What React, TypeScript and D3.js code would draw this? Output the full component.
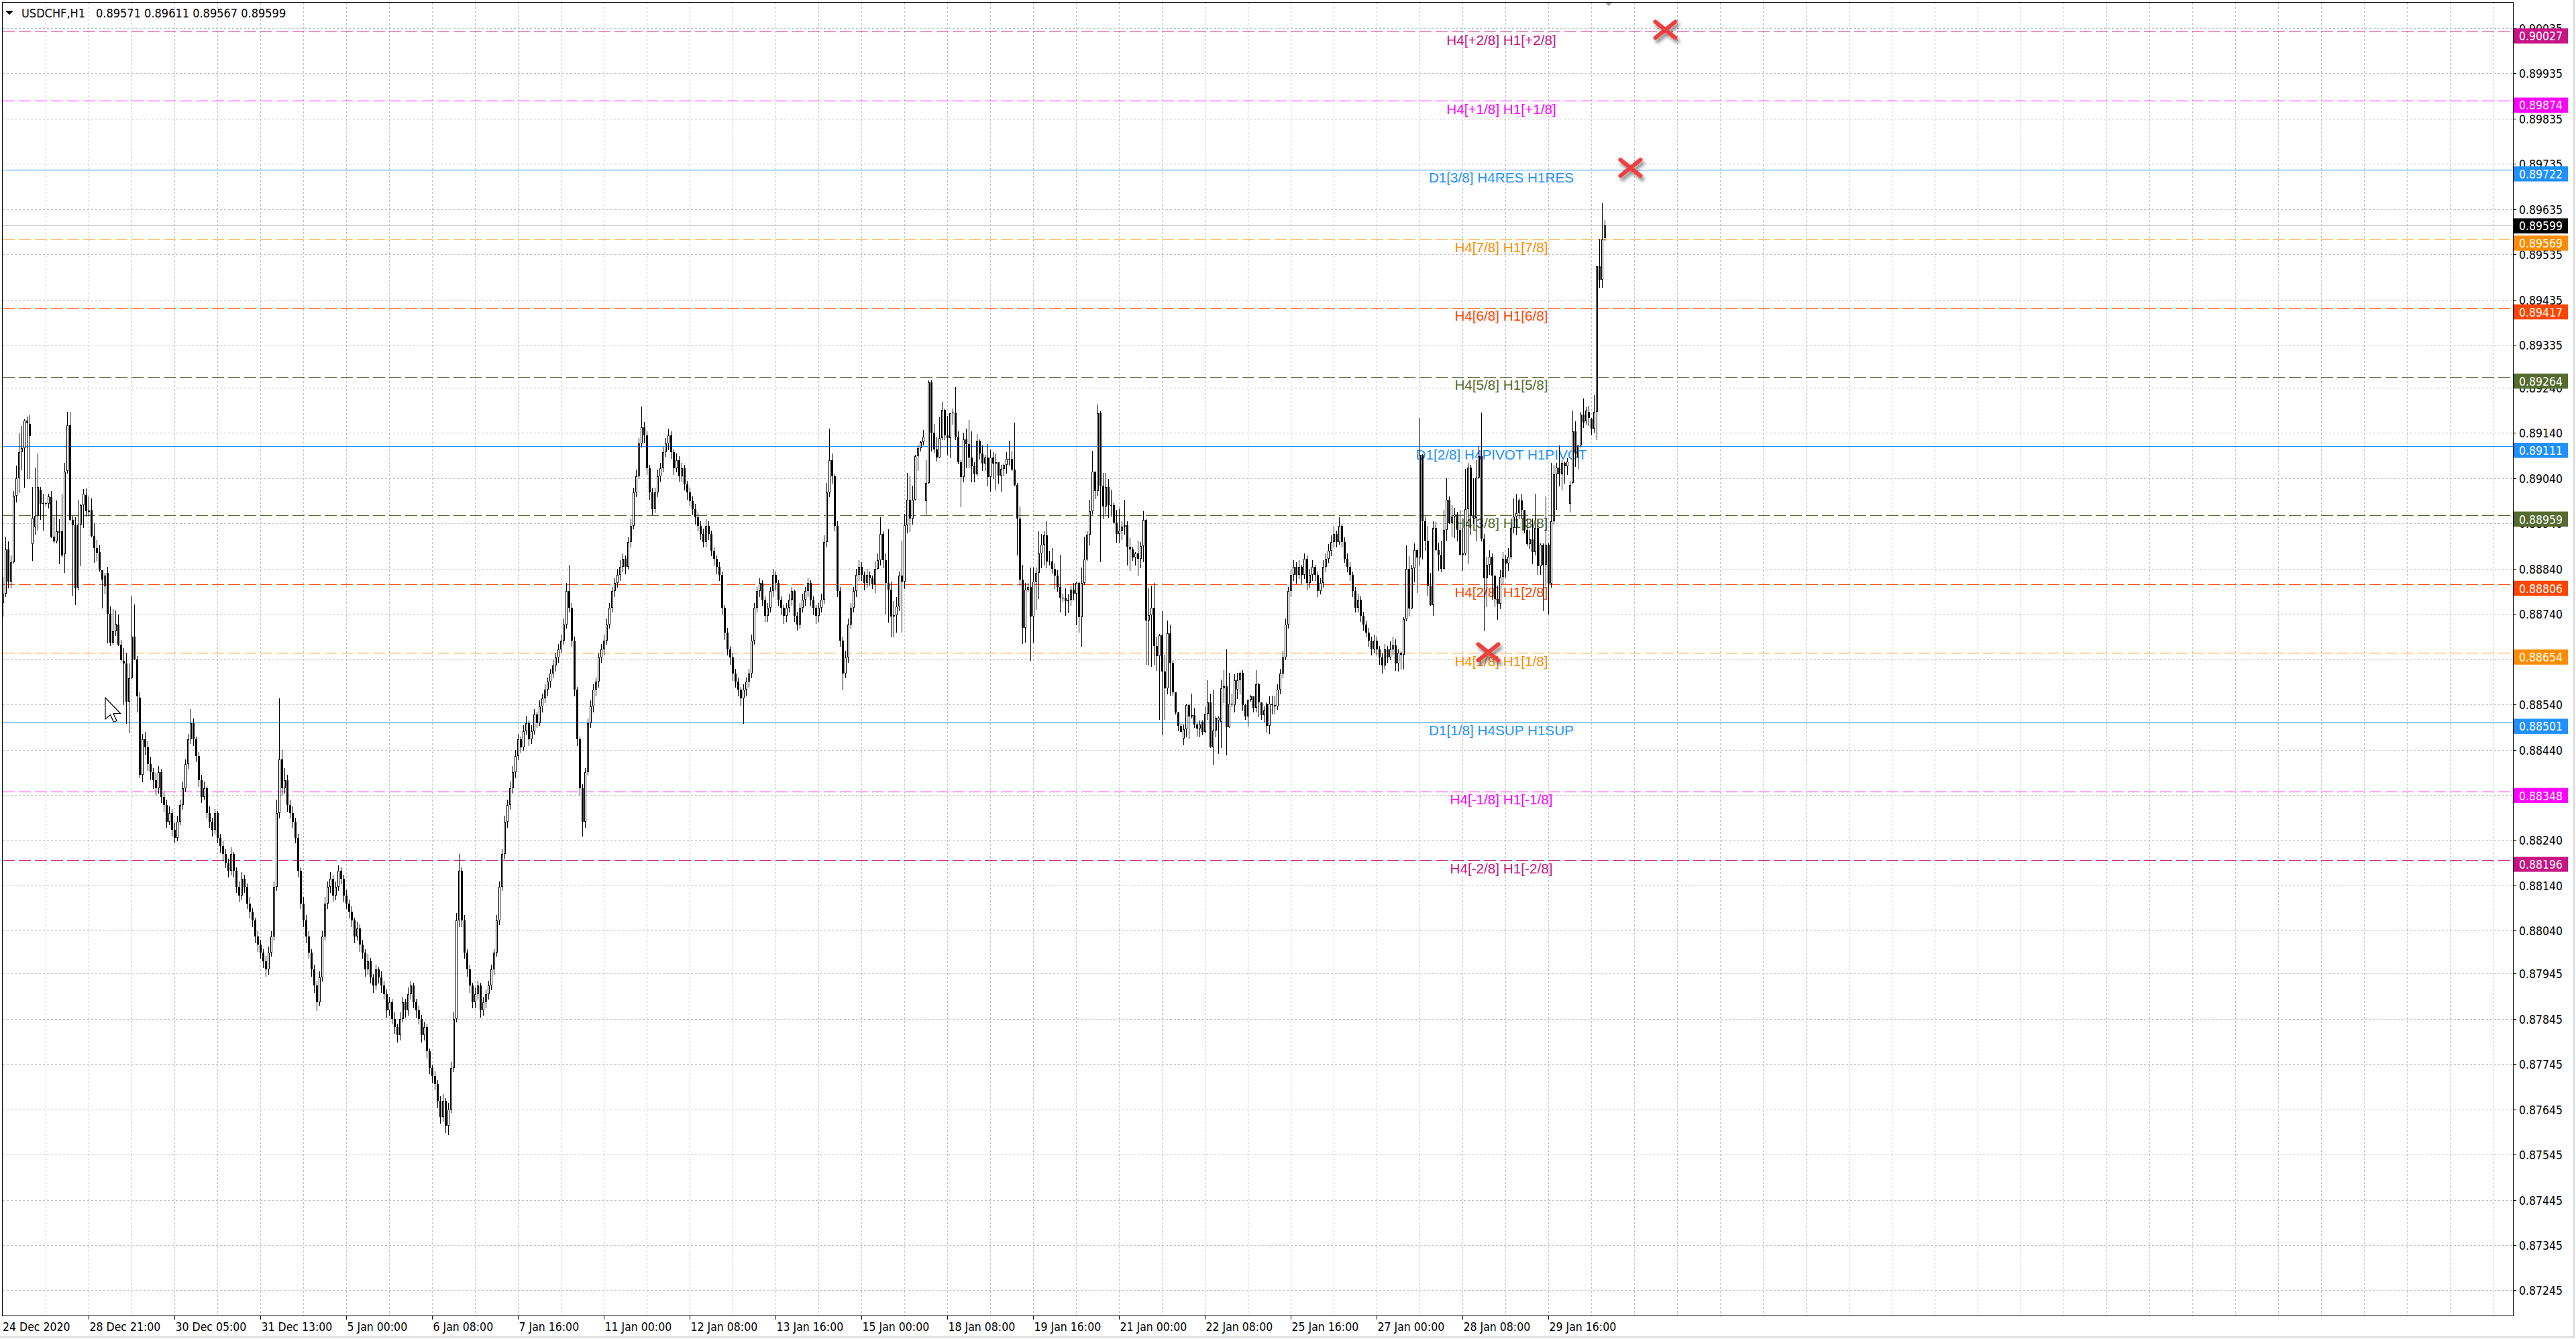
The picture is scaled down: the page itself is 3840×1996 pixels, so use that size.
import React from 'react';
import * as d3 from 'd3';

// ---------- DATA: USDCHF H1 bars, one array per trading day, rows [open, high, low, close] ----------
const dec24 = [
[.88765,.88822,.88737,.88785],[.88785,.88911,.88779,.88883],[.88883,.88901,.88799,.88813],[.88813,.88870,.88799,.88856],
[.88856,.89012,.88854,.89002],[.89002,.89069,.88989,.89040],[.89040,.89140,.89009,.89098],[.89098,.89157,.89060,.89107],
[.89107,.89171,.89022,.89168],[.89168,.89177,.89040,.89163],[.89161,.89180,.89040,.89134]];
const dec28 = [
[.88896,.89022,.88859,.88953],[.88933,.89064,.88918,.88957],[.88957,.89095,.88927,.89021],[.89016,.89022,.88950,.88985],
[.88985,.89006,.88927,.88986],[.88986,.88989,.88982,.88985],[.88985,.89007,.88975,.89001],[.88999,.89012,.88910,.88910],
[.88911,.88955,.88899,.88901],[.88901,.88991,.88899,.88923],[.88920,.88950,.88853,.88923],[.88923,.89005,.88867,.88870],
[.88873,.89075,.88833,.89055],[.89057,.89187,.89052,.89158],[.89158,.89187,.88947,.88948],[.88948,.88958,.88782,.88937],
[.88937,.88955,.88762,.88798],[.88799,.88993,.88794,.88939],[.88939,.88984,.88848,.88982],[.88982,.89017,.88933,.89006],
[.89004,.89019,.88958,.88968],[.88970,.89001,.88958,.88967],[.88971,.88996,.88911,.88913],[.88913,.88942,.88856,.88887]];
const dec29 = [
[.88886,.88904,.88859,.88876],[.88877,.88894,.88836,.88837],[.88837,.88837,.88754,.88816],[.88802,.88831,.88785,.88825],
[.88831,.88845,.88677,.88741],[.88741,.88757,.88672,.88678],[.88677,.88751,.88674,.88703],[.88703,.88748,.88694,.88719],
[.88717,.88740,.88672,.88673],[.88673,.88683,.88638,.88639],[.88638,.88666,.88541,.88632],[.88632,.88655,.88499,.88547],
[.88547,.88632,.88479,.88598],[.88598,.88779,.88598,.88690],[.88691,.88762,.88640,.88640],[.88640,.88647,.88524,.88558],
[.88555,.88567,.88380,.88385],[.88385,.88475,.88370,.88464],[.88464,.88480,.88430,.88446],[.88446,.88460,.88395,.88409],
[.88409,.88425,.88375,.88391],[.88391,.88400,.88355,.88373],[.88373,.88390,.88340,.88355],[.88355,.88405,.88345,.88391]];
const dec30 = [
[.88391,.88398,.88325,.88337],[.88337,.88350,.88305,.88319],[.88319,.88330,.88270,.88282],[.88282,.88315,.88275,.88300],
[.88300,.88310,.88250,.88264],[.88264,.88280,.88235,.88246],[.88246,.88295,.88240,.88282],[.88282,.88330,.88275,.88319],
[.88319,.88370,.88310,.88355],[.88355,.88420,.88350,.88409],[.88409,.88475,.88400,.88464],[.88464,.88530,.88455,.88500],
[.88500,.88510,.88450,.88464],[.88464,.88470,.88415,.88427],[.88427,.88435,.88360,.88373],[.88373,.88385,.88325,.88337],
[.88337,.88370,.88330,.88355],[.88355,.88360,.88290,.88300],[.88300,.88315,.88270,.88282],[.88282,.88290,.88250,.88264],
[.88264,.88310,.88255,.88300],[.88300,.88305,.88235,.88246],[.88246,.88255,.88215,.88228],[.88228,.88240,.88195,.88210]];
const dec31 = [
[.88210,.88220,.88180,.88191],[.88191,.88200,.88160,.88173],[.88173,.88225,.88165,.88210],[.88210,.88215,.88160,.88173],
[.88173,.88180,.88125,.88137],[.88137,.88150,.88105,.88119],[.88119,.88170,.88110,.88155],[.88155,.88165,.88125,.88137],
[.88137,.88145,.88090,.88101],[.88101,.88115,.88070,.88082],[.88082,.88090,.88050,.88064],[.88064,.88070,.88015,.88028],
[.88028,.88040,.87995,.88010],[.88010,.88020,.87980,.87992],[.87992,.88000,.87960,.87973],[.87973,.87985,.87940,.87955],
[.87955,.88005,.87945,.87992],[.87992,.88040,.87985,.88028],[.88028,.88150,.88020,.88137],[.88137,.88330,.88130,.88300],
[.88300,.88554,.88290,.88420]];
const jan04 = [
[.88420,.88440,.88340,.88355],[.88355,.88400,.88345,.88373],[.88373,.88385,.88305,.88319],[.88319,.88330,.88290,.88300],
[.88300,.88315,.88270,.88282],[.88282,.88290,.88235,.88246],[.88246,.88255,.88160,.88173],[.88173,.88180,.88090,.88101],
[.88101,.88115,.88050,.88064],[.88064,.88075,.88015,.88028],[.88028,.88040,.87980,.87992],[.87992,.88000,.87940,.87955],
[.87955,.87965,.87905,.87919],[.87919,.87930,.87865,.87883],[.87883,.87950,.87875,.87937],[.87937,.88040,.87930,.88028],
[.88028,.88115,.88020,.88101],[.88101,.88150,.88090,.88137],[.88137,.88170,.88125,.88155],[.88155,.88165,.88105,.88119],
[.88119,.88150,.88110,.88137],[.88137,.88185,.88130,.88173],[.88173,.88180,.88145,.88155],[.88155,.88165,.88105,.88119]];
const jan05 = [
[.88119,.88130,.88090,.88101],[.88101,.88110,.88070,.88082],[.88082,.88095,.88050,.88064],[.88064,.88070,.88015,.88028],
[.88028,.88060,.88020,.88046],[.88046,.88055,.87995,.88010],[.88010,.88020,.87980,.87992],[.87992,.88000,.87940,.87955],
[.87955,.87990,.87945,.87973],[.87973,.87980,.87925,.87937],[.87937,.87945,.87905,.87919],[.87919,.87965,.87910,.87955],
[.87955,.87960,.87925,.87937],[.87937,.87950,.87905,.87919],[.87919,.87930,.87890,.87901],[.87901,.87910,.87850,.87864],
[.87864,.87895,.87855,.87883],[.87883,.87890,.87835,.87846],[.87846,.87860,.87815,.87828],[.87828,.87835,.87795,.87810],
[.87810,.87860,.87800,.87846],[.87846,.87895,.87840,.87883],[.87883,.87890,.87850,.87864],[.87864,.87915,.87855,.87901]];
const jan06 = [
[.87901,.87930,.87890,.87919],[.87919,.87925,.87870,.87883],[.87883,.87890,.87850,.87864],[.87864,.87875,.87835,.87846],
[.87846,.87855,.87795,.87810],[.87810,.87840,.87800,.87828],[.87828,.87835,.87760,.87774],[.87774,.87780,.87725,.87737],
[.87737,.87745,.87705,.87719],[.87719,.87730,.87690,.87701],[.87701,.87710,.87650,.87665],[.87665,.87675,.87615,.87629],
[.87629,.87680,.87620,.87665],[.87665,.87670,.87595,.87610],[.87610,.87660,.87590,.87646],[.87646,.87750,.87640,.87737],
[.87737,.87860,.87730,.87846],[.87846,.88080,.87840,.88064],[.88064,.88210,.88050,.88173],[.88173,.88180,.88050,.88064],
[.88064,.88075,.87980,.87992],[.87992,.88000,.87940,.87955],[.87955,.87965,.87905,.87919],[.87919,.87925,.87870,.87883]];
const jan07 = [
[.87883,.87915,.87870,.87901],[.87901,.87930,.87890,.87919],[.87919,.87925,.87850,.87864],[.87864,.87895,.87855,.87883],
[.87883,.87910,.87870,.87901],[.87901,.87930,.87890,.87919],[.87919,.87965,.87910,.87955],[.87955,.88000,.87945,.87992],
[.87992,.88075,.87985,.88064],[.88064,.88150,.88055,.88137],[.88137,.88220,.88130,.88210],[.88210,.88295,.88200,.88282],
[.88282,.88330,.88270,.88319],[.88319,.88370,.88310,.88355],[.88355,.88405,.88345,.88391],[.88391,.88440,.88380,.88427],
[.88427,.88475,.88420,.88464],[.88464,.88470,.88435,.88446],[.88446,.88495,.88440,.88482],[.88482,.88515,.88475,.88500],
[.88500,.88505,.88450,.88464],[.88464,.88495,.88455,.88482],[.88482,.88530,.88475,.88518],[.88518,.88525,.88490,.88500]];
const jan08 = [
[.88500,.88550,.88495,.88536],[.88536,.88565,.88525,.88554],[.88554,.88585,.88545,.88573],[.88573,.88600,.88560,.88591],
[.88591,.88620,.88580,.88609],[.88609,.88640,.88600,.88627],[.88627,.88655,.88615,.88645],[.88645,.88675,.88635,.88663],
[.88663,.88695,.88655,.88682],[.88682,.88730,.88675,.88718],[.88718,.88810,.88710,.88791],[.88791,.88850,.88745,.88754],
[.88754,.88765,.88670,.88682],[.88682,.88690,.88560,.88573],[.88573,.88580,.88450,.88464],[.88464,.88470,.88340,.88355],
[.88355,.88365,.88250,.88282],[.88282,.88400,.88270,.88391],[.88391,.88510,.88385,.88500],[.88500,.88550,.88490,.88536],
[.88536,.88585,.88525,.88573],[.88573,.88600,.88560,.88591],[.88591,.88655,.88580,.88645],[.88645,.88675,.88635,.88663]];
const jan11 = [
[.88663,.88695,.88650,.88682],[.88682,.88730,.88675,.88718],[.88718,.88765,.88710,.88754],[.88754,.88800,.88745,.88791],
[.88791,.88820,.88780,.88809],[.88809,.88840,.88800,.88827],[.88827,.88860,.88815,.88845],[.88845,.88875,.88835,.88863],
[.88863,.88870,.88830,.88845],[.88845,.88910,.88840,.88900],[.88900,.88950,.88890,.88936],[.88936,.89020,.88930,.89009],
[.89009,.89060,.89000,.89045],[.89045,.89130,.89040,.89117],[.89117,.89200,.89110,.89154],[.89154,.89165,.89120,.89136],
[.89136,.89145,.89050,.89063],[.89063,.89070,.88995,.89009],[.89009,.89020,.88960,.88972],[.88972,.89020,.88965,.89009],
[.89009,.89060,.89000,.89045],[.89045,.89075,.89035,.89063],[.89063,.89110,.89055,.89099],[.89099,.89130,.89090,.89117]];
const jan12 = [
[.89117,.89150,.89105,.89136],[.89136,.89145,.89085,.89099],[.89099,.89105,.89050,.89063],[.89063,.89095,.89055,.89081],
[.89081,.89090,.89035,.89045],[.89045,.89075,.89035,.89063],[.89063,.89070,.89015,.89027],[.89027,.89035,.88995,.89009],
[.89009,.89020,.88980,.88990],[.88990,.89000,.88960,.88972],[.88972,.88985,.88940,.88954],[.88954,.88965,.88925,.88936],
[.88936,.88945,.88905,.88918],[.88918,.88930,.88890,.88900],[.88900,.88950,.88890,.88936],[.88936,.88945,.88905,.88918],
[.88918,.88925,.88870,.88881],[.88881,.88890,.88850,.88863],[.88863,.88870,.88830,.88845],[.88845,.88855,.88815,.88827],
[.88827,.88835,.88740,.88754],[.88754,.88760,.88685,.88700],[.88700,.88710,.88650,.88663],[.88663,.88670,.88630,.88645]];
const jan13 = [
[.88645,.88655,.88595,.88609],[.88609,.88620,.88580,.88591],[.88591,.88600,.88560,.88573],[.88573,.88580,.88540,.88554],
[.88554,.88585,.88500,.88573],[.88573,.88600,.88560,.88591],[.88591,.88620,.88580,.88609],[.88609,.88695,.88600,.88682],
[.88682,.88765,.88675,.88754],[.88754,.88800,.88745,.88791],[.88791,.88820,.88780,.88809],[.88809,.88815,.88760,.88772],
[.88772,.88780,.88725,.88736],[.88736,.88765,.88725,.88754],[.88754,.88800,.88745,.88791],[.88791,.88840,.88780,.88827],
[.88827,.88835,.88795,.88809],[.88809,.88815,.88760,.88772],[.88772,.88780,.88740,.88754],[.88754,.88760,.88720,.88736],
[.88736,.88765,.88725,.88754],[.88754,.88785,.88745,.88772],[.88772,.88800,.88760,.88791],[.88791,.88795,.88725,.88736]];
const jan14 = [
[.88736,.88745,.88705,.88718],[.88718,.88765,.88710,.88754],[.88754,.88785,.88745,.88772],[.88772,.88800,.88760,.88791],
[.88791,.88820,.88780,.88809],[.88809,.88815,.88760,.88772],[.88772,.88780,.88740,.88754],[.88754,.88760,.88720,.88736],
[.88736,.88765,.88725,.88754],[.88754,.88785,.88745,.88772],[.88772,.88915,.88765,.88900],[.88900,.89030,.88890,.89009],
[.89009,.89150,.89000,.89081],[.89081,.89095,.89030,.89045],[.89045,.89050,.88925,.88936],[.88936,.88945,.88780,.88791],
[.88791,.88800,.88670,.88682],[.88682,.88690,.88573,.88609],[.88609,.88660,.88600,.88645],[.88645,.88730,.88635,.88718],
[.88718,.88765,.88710,.88754],[.88754,.88800,.88745,.88791],[.88791,.88840,.88780,.88827],[.88827,.88860,.88815,.88845]];
const jan15 = [
[.88845,.88855,.88815,.88827],[.88827,.88835,.88795,.88809],[.88809,.88840,.88800,.88827],[.88827,.88835,.88805,.88820],
[.88820,.88826,.88798,.88806],[.88806,.88857,.88789,.88840],[.88840,.88874,.88840,.88860],[.88860,.88954,.88849,.88917],
[.88917,.88923,.88843,.88860],[.88860,.88874,.88741,.88809],[.88809,.88928,.88724,.88795],[.88795,.88812,.88690,.88735],
[.88735,.88769,.88690,.88738],[.88738,.88778,.88701,.88758],[.88758,.88835,.88749,.88826],[.88826,.88903,.88701,.88812],
[.88812,.88962,.88798,.88937],[.88937,.89053,.88920,.88993],[.88993,.89047,.88923,.88951],[.88951,.89025,.88940,.88993],
[.88993,.89093,.88993,.89090],[.89090,.89115,.89059,.89107],[.89107,.89124,.89101,.89121],[.89121,.89147,.89115,.89133]];
const jan18 = [
[.88990,.89080,.88960,.89030],[.89030,.89257,.89030,.89252],[.89252,.89257,.89101,.89141],[.89141,.89161,.89099,.89104],
[.89104,.89132,.89079,.89087],[.89087,.89175,.89087,.89130],[.89130,.89209,.89127,.89192],[.89192,.89195,.89127,.89135],
[.89135,.89178,.89093,.89130],[.89130,.89184,.89087,.89184],[.89184,.89195,.89161,.89186],[.89186,.89243,.89127,.89133],
[.89133,.89144,.89073,.89076],[.89076,.89081,.88979,.89044],[.89044,.89141,.89033,.89127],[.89127,.89150,.89064,.89116],
[.89116,.89170,.89064,.89087],[.89087,.89144,.89033,.89067],[.89067,.89076,.89033,.89050],[.89050,.89138,.89047,.89124],
[.89124,.89127,.89084,.89096],[.89096,.89113,.89059,.89073],[.89073,.89093,.89059,.89087],[.89087,.89116,.89024,.89044]];
const jan19 = [
[.89044,.89104,.89013,.89087],[.89087,.89099,.89041,.89073],[.89073,.89096,.89016,.89076],[.89076,.89076,.89030,.89047],
[.89047,.89070,.89013,.89062],[.89062,.89073,.89047,.89070],[.89070,.89099,.89053,.89083],[.89083,.89124,.89070,.89083],
[.89083,.89101,.89059,.89060],[.89060,.89164,.89024,.89026],[.89026,.89030,.88872,.88951],[.88951,.88979,.88804,.88816],
[.88816,.88849,.88676,.88710],[.88710,.88809,.88679,.88795],[.88795,.88809,.88792,.88800],[.88800,.88843,.88639,.88735],
[.88735,.88843,.88679,.88812],[.88812,.88843,.88752,.88832],[.88832,.88923,.88775,.88874],[.88874,.88917,.88843,.88894],
[.88894,.88923,.88849,.88914],[.88914,.88945,.88843,.88857],[.88857,.88880,.88849,.88857],[.88857,.88886,.88832,.88840]];
const jan20 = [
[.88840,.88852,.88798,.88825],[.88825,.88838,.88792,.88801],[.88801,.88872,.88746,.88776],[.88776,.88786,.88770,.88776],
[.88776,.88798,.88738,.88769],[.88769,.88784,.88744,.88772],[.88772,.88803,.88761,.88795],[.88795,.88809,.88772,.88786],
[.88786,.88812,.88718,.88810],[.88810,.88812,.88701,.88733],[.88733,.88843,.88670,.88809],[.88809,.88911,.88806,.88861],
[.88861,.88923,.88860,.88916],[.88916,.88993,.88894,.88968],[.88968,.89101,.88962,.89056],[.89056,.89056,.88996,.89013],
[.89013,.89204,.89002,.89185],[.89185,.89189,.88857,.89025],[.89025,.89053,.88951,.88979],[.88979,.89053,.88962,.89022],
[.89022,.89039,.88954,.88982],[.88982,.89016,.88957,.88982],[.88982,.88987,.88942,.88943],[.88943,.88971,.88900,.88917]];
const jan21 = [
[.88917,.88974,.88900,.88925],[.88925,.88945,.88906,.88934],[.88934,.88993,.88917,.88937],[.88937,.88945,.88849,.88889],
[.88889,.88908,.88838,.88883],[.88883,.88889,.88860,.88866],[.88866,.88877,.88849,.88874],[.88874,.88903,.88826,.88863],
[.88863,.88900,.88843,.88891],[.88891,.88968,.88857,.88948],[.88948,.88951,.88630,.88727],[.88727,.88798,.88628,.88738],
[.88738,.88803,.88625,.88755],[.88755,.88809,.88630,.88670],[.88670,.88690,.88616,.88647],[.88647,.88696,.88508,.88693],
[.88693,.88747,.88474,.88613],[.88613,.88650,.88508,.88576],[.88576,.88727,.88565,.88698],[.88698,.88718,.88562,.88633],
[.88633,.88639,.88562,.88568],[.88568,.88568,.88520,.88523],[.88523,.88525,.88483,.88494],[.88494,.88500,.88480,.88480]];
const jan22 = [
[.88465,.88497,.88452,.88486],[.88486,.88542,.88469,.88540],[.88540,.88542,.88466,.88514],[.88514,.88565,.88511,.88517],
[.88517,.88534,.88491,.88497],[.88497,.88500,.88471,.88488],[.88488,.88506,.88469,.88497],[.88503,.88506,.88474,.88480],
[.88480,.88537,.88478,.88520],[.88520,.88594,.88508,.88545],[.88545,.88565,.88446,.88446],[.88446,.88574,.88409,.88483],
[.88483,.88514,.88469,.88511],[.88505,.88514,.88432,.88511],[.88503,.88596,.88446,.88576],[.88576,.88616,.88545,.88581],
[.88581,.88662,.88429,.88491],[.88491,.88611,.88491,.88542],[.88542,.88565,.88537,.88542],[.88540,.88608,.88525,.88594],
[.88574,.88611,.88554,.88594],[.88594,.88613,.88565,.88611],[.88611,.88616,.88528,.88540],[.88540,.88542,.88508,.88514]];
const jan25 = [
[.88514,.88551,.88494,.88551],[.88551,.88562,.88548,.88559],[.88559,.88559,.88525,.88534],[.88534,.88616,.88525,.88585],
[.88585,.88588,.88514,.88545],[.88545,.88545,.88508,.88517],[.88517,.88537,.88503,.88528],[.88542,.88545,.88480,.88494],
[.88494,.88559,.88477,.88542],[.88542,.88560,.88520,.88540],[.88540,.88560,.88520,.88536],[.88536,.88585,.88530,.88573],
[.88573,.88620,.88565,.88609],[.88609,.88660,.88600,.88645],[.88645,.88730,.88640,.88718],[.88718,.88800,.88710,.88791],
[.88791,.88840,.88780,.88827],[.88827,.88860,.88815,.88845],[.88845,.88855,.88810,.88827],[.88827,.88860,.88820,.88845],
[.88845,.88850,.88810,.88827],[.88827,.88875,.88820,.88863],[.88863,.88870,.88795,.88809],[.88809,.88840,.88800,.88827]];
const jan26 = [
[.88827,.88860,.88815,.88845],[.88845,.88850,.88815,.88827],[.88827,.88835,.88780,.88791],[.88791,.88820,.88785,.88809],
[.88809,.88860,.88800,.88845],[.88845,.88875,.88835,.88863],[.88863,.88895,.88855,.88881],[.88881,.88915,.88870,.88900],
[.88900,.88935,.88890,.88918],[.88918,.88925,.88890,.88900],[.88900,.88955,.88895,.88936],[.88936,.88940,.88890,.88900],
[.88900,.88910,.88855,.88863],[.88863,.88875,.88835,.88845],[.88845,.88855,.88815,.88827],[.88827,.88835,.88780,.88791],
[.88791,.88800,.88745,.88754],[.88754,.88785,.88745,.88772],[.88772,.88780,.88725,.88736],[.88736,.88745,.88705,.88718],
[.88718,.88725,.88690,.88700],[.88700,.88710,.88670,.88682],[.88682,.88690,.88650,.88663],[.88663,.88695,.88655,.88682]];
const jan27 = [
[.88682,.88690,.88650,.88663],[.88663,.88670,.88630,.88645],[.88645,.88655,.88610,.88627],[.88627,.88675,.88620,.88663],
[.88663,.88670,.88635,.88645],[.88645,.88680,.88640,.88663],[.88663,.88690,.88650,.88672],[.88672,.88684,.88617,.88632],
[.88632,.88662,.88615,.88655],[.88655,.88658,.88620,.88650],[.88650,.88734,.88620,.88729],[.88729,.88892,.88726,.88840],
[.88840,.88869,.88736,.88753],[.88753,.88850,.88753,.88842],[.88842,.88897,.88813,.88882],[.88882,.88884,.88788,.88865],
[.88865,.89174,.88850,.89092],[.89092,.89094,.88862,.88946],[.88946,.88956,.88882,.88902],[.88902,.88936,.88783,.88803],
[.88803,.88832,.88761,.88761],[.88761,.88946,.88738,.88931],[.88931,.88944,.88882,.88882],[.88882,.88899,.88838,.88872]];
const jan28 = [
[.88872,.88902,.88835,.88840],[.88840,.88971,.88840,.88926],[.88926,.89040,.88904,.88993],[.88993,.89001,.88941,.88941],
[.88941,.88981,.88912,.88956],[.88956,.88976,.88910,.88961],[.88961,.88966,.88902,.88926],[.88926,.88971,.88872,.88872],
[.88872,.88931,.88838,.88875],[.88875,.89062,.88872,.88973],[.88973,.89075,.88852,.89065],[.89065,.89070,.88916,.88958],
[.88958,.89040,.88941,.88953],[.88953,.89080,.88902,.89042],[.89042,.89112,.89040,.89090],[.89090,.89186,.88902,.88907],
[.88907,.88917,.88704,.88820],[.88820,.88867,.88758,.88850],[.88850,.88882,.88828,.88867],[.88867,.88874,.88773,.88825],
[.88825,.88825,.88758,.88773],[.88773,.88803,.88729,.88763],[.88763,.88837,.88753,.88823],[.88823,.88877,.88808,.88862]];
const jan29 = [
[.88862,.88872,.88823,.88852],[.88852,.88887,.88838,.88867],[.88867,.88941,.88862,.88931],[.88931,.88996,.88921,.88956],
[.88956,.89006,.88916,.88963],[.88963,.88996,.88951,.88991],[.88991,.89006,.88951,.88971],[.88971,.88971,.88921,.88926],
[.88926,.88951,.88892,.88895],[.88895,.88926,.88887,.88905],[.88905,.88951,.88852,.88877],[.88877,.89006,.88872,.88931],
[.88931,.88951,.88828,.88847],[.88847,.88897,.88828,.88894],[.88894,.88897,.88749,.88850],[.88850,.89001,.88803,.88894],
[.88894,.88897,.88741,.88808],[.88808,.89075,.88800,.88946],[.88946,.89070,.88940,.89050],[.89050,.89075,.88973,.89065],
[.89065,.89114,.89025,.89050],[.89050,.89080,.89015,.89075],[.89075,.89078,.89030,.89068],[.89068,.89085,.89050,.89078]];
const feb01 = [
[.88985,.89035,.88966,.89026],[.89030,.89191,.89030,.89144],[.89144,.89166,.89068,.89095],[.89087,.89113,.89063,.89113],
[.89113,.89188,.89110,.89182],[.89182,.89217,.89153,.89164],[.89166,.89198,.89161,.89190],[.89188,.89201,.89158,.89174],
[.89172,.89174,.89137,.89151],[.89151,.89225,.89143,.89188],[.89188,.89509,.89127,.89509],[.89509,.89570,.89463,.89479],
[.89479,.89648,.89463,.89569],[.89571,.89611,.89567,.89599]];

const sessionDays = ['2020-12-24','2020-12-28','2020-12-29','2020-12-30','2020-12-31','2021-01-04','2021-01-05','2021-01-06',
  '2021-01-07','2021-01-08','2021-01-11','2021-01-12','2021-01-13','2021-01-14','2021-01-15','2021-01-18','2021-01-19',
  '2021-01-20','2021-01-21','2021-01-22','2021-01-25','2021-01-26','2021-01-27','2021-01-28','2021-01-29','2021-02-01'];
const sessionFirstHour = [13,0,0,0,0,0,0,0,0,0,0,0,0,0,0,0,0,0,0,0,0,0,0,0,0,0];
const sessionBars = [dec24,dec28,dec29,dec30,dec31,jan04,jan05,jan06,jan07,jan08,jan11,jan12,jan13,jan14,jan15,
  jan18,jan19,jan20,jan21,jan22,jan25,jan26,jan27,jan28,jan29,feb01];

// Murrey-math style levels drawn by the indicator
const levelPrices = [0.90027,0.89874,0.89722,0.89569,0.89417,0.89264,0.89111,0.88959,0.88806,0.88654,0.88501,0.88348,0.88196];
const levelNames = ['H4[+2/8] H1[+2/8]','H4[+1/8] H1[+1/8]','D1[3/8] H4RES H1RES','H4[7/8] H1[7/8]','H4[6/8] H1[6/8]',
  'H4[5/8] H1[5/8]','D1[2/8] H4PIVOT H1PIVOT','H4[3/8] H1[3/8]','H4[2/8] H1[2/8]','H4[1/8] H1[1/8]','D1[1/8] H4SUP H1SUP',
  'H4[-1/8] H1[-1/8]','H4[-2/8] H1[-2/8]'];
const levelColors = ['#C71585','#FF00FF','#1E90FF','#FF8C00','#FF4500','#556B2F','#1E90FF','#556B2F','#FF4500','#FF8C00',
  '#1E90FF','#FF00FF','#C71585'];
const levelSolid = [false,false,true,false,false,false,true,false,false,false,true,false,false];

const priceTicks = [0.90035,0.89935,0.89835,0.89735,0.89635,0.89535,0.89435,0.89335,0.89240,0.89140,0.89040,0.88940,
  0.88840,0.88740,0.88640,0.88540,0.88440,0.88340,0.88240,0.88140,0.88040,0.87945,0.87845,0.87745,0.87645,0.87545,
  0.87445,0.87345,0.87245];

// crossed-out markers (bar index, price)
const markBars = [619.5, 606.5, 553.5];
const markPrices = [0.90032, 0.89727, 0.88656];

const symbol = 'USDCHF,H1';
const currentPrice = 0.89599;
const labelEvery = 32;
const MONTHS = ['Jan','Feb','Mar','Apr','May','Jun','Jul','Aug','Sep','Oct','Nov','Dec'];

const AXIS_FONT = "'DejaVu Sans Condensed','DejaVu Sans',sans-serif";
const LABEL_FONT = "'Liberation Sans',Arial,sans-serif";

export default function App() {
  const W = 3840, H = 1996;
  const L = 4, R = 3746, T = 4, B = 1961;

  const bars: {o:number,h:number,l:number,c:number,day:string,hour:number}[] = [];
  sessionBars.forEach((arr, si) => {
    arr.forEach((b, k) => bars.push({o:b[0],h:b[1],l:b[2],c:b[3],day:sessionDays[si],hour:sessionFirstHour[si]+k}));
  });

  const x = d3.scaleLinear().domain([0, 1]).range([4.5, 8.5]);
  const y = d3.scaleLinear().domain([0.90027, 0.88196]).range([47.8, 1282.6]);
  const fmt = d3.format('.5f');
  const snap = (v:number) => Math.round(v - 0.5) + 0.5;

  const vGrid: number[] = [];
  for (let i = 16; x(i) < R; i += 16) vGrid.push(x(i));

  const timeTicks: {i:number,label:string}[] = [];
  for (let i = 0; i < bars.length; i += labelEvery) {
    const b = bars[i];
    const [yy, mm, dd] = b.day.split('-').map(Number);
    const label = i === 0 ? `${dd} ${MONTHS[mm-1]} ${yy}` : `${dd} ${MONTHS[mm-1]} ${String(b.hour).padStart(2,'0')}:00`;
    timeTicks.push({i, label});
  }
  const last = bars[bars.length - 1];

  return (
    <div style={{position:'absolute', left:0, top:0, width:W, height:H, background:'#fff'}}>
      <svg width={W} height={H} viewBox={`0 0 ${W} ${H}`} style={{display:'block'}}>
        <defs>
          <filter id="xshadow" x="-50%" y="-50%" width="200%" height="200%">
            <feDropShadow dx="3" dy="5" stdDeviation="2.5" floodColor="#000" floodOpacity="0.45"/>
          </filter>
          <clipPath id="plotclip"><rect x={L} y={T} width={R-L} height={B-T}/></clipPath>
        </defs>
        <rect x={0} y={0} width={W} height={H} fill="#fff"/>
        {/* grid */}
        <g stroke="#C0C0C0" strokeWidth={1} strokeDasharray="3 3" shapeRendering="crispEdges" clipPath="url(#plotclip)">
          {priceTicks.map((p, k) => <line key={'hg'+k} x1={L} x2={R} y1={snap(y(p))} y2={snap(y(p))}/>)}
          {vGrid.map((gx, k) => <line key={'vg'+k} x1={gx} x2={gx} y1={T} y2={B}/>)}
        </g>
        {/* current price line */}
        <line x1={L} x2={R} y1={snap(y(currentPrice))} y2={snap(y(currentPrice))} stroke="#C0C0C0" strokeWidth={1} shapeRendering="crispEdges"/>
        {/* level lines + names */}
        <g clipPath="url(#plotclip)">
          {levelPrices.map((p, k) => (
            <line key={'lv'+k} x1={L} x2={R} y1={snap(y(p))} y2={snap(y(p))} stroke={levelColors[k]} strokeWidth={1.3}
              strokeDasharray={levelSolid[k] ? undefined : '18 6'} shapeRendering="crispEdges"/>
          ))}
          {levelPrices.map((p, k) => (
            <text key={'ln'+k} x={2238} y={y(p) + 19} textAnchor="middle" fontFamily={LABEL_FONT} fontSize={20.7}
              fill={levelColors[k]}>{levelNames[k]}</text>
          ))}
        </g>
        {/* candles */}
        <g clipPath="url(#plotclip)" shapeRendering="crispEdges">
          {bars.map((b, i) => {
            const xc = x(i);
            const yo = y(b.o), yc = y(b.c);
            const top = Math.round(Math.min(yo, yc)), bot = Math.round(Math.max(yo, yc));
            let body;
            if (b.c > b.o && bot - top >= 2) {
              body = <rect x={xc-1} y={top+0.5} width={2} height={bot-top-1} fill="#fff" stroke="#000" strokeWidth={1}/>;
            } else if (bot - top >= 1 && b.c < b.o) {
              body = <rect x={xc-1.5} y={top} width={3} height={bot-top} fill="#000"/>;
            } else {
              body = <line x1={xc-1.5} x2={xc+1.5} y1={top+0.5} y2={top+0.5} stroke="#000"/>;
            }
            return (
              <g key={'c'+i}>
                <line x1={xc} x2={xc} y1={Math.round(y(b.h))} y2={Math.round(y(b.l))+1} stroke="#000" strokeWidth={1}/>
                {body}
              </g>
            );
          })}
        </g>
        {/* red cross markers */}
        <g filter="url(#xshadow)" stroke="#F03C3C" strokeWidth={6} strokeLinecap="round">
          {markBars.map((mb, k) => {
            const cx = x(mb), cy = y(markPrices[k]);
            return (
              <g key={'m'+k}>
                <line x1={cx-15} y1={cy+12} x2={cx+15} y2={cy-12}/>
                <line x1={cx-15} y1={cy-12} x2={cx+15} y2={cy+12}/>
              </g>
            );
          })}
        </g>
        {/* mouse cursor */}
        <g transform="translate(157,1040)">
          <polygon points="0,0 0,32 7.5,25.5 12.5,36.5 17,34.5 12,23.5 22.5,23.5" fill="#fff" stroke="#000" strokeWidth={1.2}/>
        </g>
        {/* chart shift marker */}
        <polygon points="2392,3 2404,3 2398,9" fill="#A0A0A0"/>
        {/* frame */}
        <g fill="none" stroke="#000" strokeWidth={1} shapeRendering="crispEdges">
          <line x1={3.5} x2={3.5} y1={3} y2={B+0.5}/>
          <line x1={3} x2={R+0.5} y1={3.5} y2={3.5}/>
          <line x1={R+0.5} x2={R+0.5} y1={3} y2={B+1}/>
          <line x1={3} x2={R+1} y1={B+0.5} y2={B+0.5}/>
        </g>
        <g stroke="#D8D8D8" strokeWidth={2} shapeRendering="crispEdges">
          <line x1={3837} x2={3837} y1={0} y2={1994}/>
          <line x1={0} x2={3838} y1={1993} y2={1993}/>
        </g>
        {/* price axis */}
        <g fontFamily={AXIS_FONT} fontSize={17.5} fill="#000">
          {priceTicks.map((p, k) => (
            <g key={'pt'+k}>
              <line x1={R} x2={R+5} y1={snap(y(p))} y2={snap(y(p))} stroke="#000" shapeRendering="crispEdges"/>
              <text x={3755} y={y(p) + 6.5}>{fmt(p)}</text>
            </g>
          ))}
        </g>
        {/* level price boxes */}
        <g fontFamily={AXIS_FONT} fontSize={17.5}>
          {levelPrices.map((p, k) => (
            <g key={'lb'+k}>
              <rect x={3747} y={y(p) - 5.5} width={81} height={22.5} fill={levelColors[k]}/>
              <text x={3755} y={y(p) + 12.5} fill="#fff">{fmt(p)}</text>
            </g>
          ))}
          <rect x={3747} y={y(currentPrice) - 11} width={81} height={22.5} fill="#000"/>
          <text x={3755} y={y(currentPrice) + 6.5} fill="#fff">{fmt(currentPrice)}</text>
        </g>
        {/* time axis */}
        <g fontFamily={AXIS_FONT} fontSize={17.5} fill="#000">
          {timeTicks.map((t, k) => (
            <g key={'tt'+k}>
              {k > 0 && <line x1={x(t.i)} x2={x(t.i)} y1={B} y2={B+6} stroke="#000" shapeRendering="crispEdges"/>}
              <text x={k === 0 ? 4 : x(t.i) + 1} y={1984}>{t.label}</text>
            </g>
          ))}
        </g>
        {/* header */}
        <polygon points="8,16 20,16 14,22" fill="#000"/>
        <text x={32} y={26} fontFamily={AXIS_FONT} fontSize={18} fill="#000">{symbol}</text>
        <text x={143} y={26} fontFamily={AXIS_FONT} fontSize={18} fill="#000">
          {`${fmt(last.o)} ${fmt(last.h)} ${fmt(last.l)} ${fmt(last.c)}`}
        </text>
      </svg>
    </div>
  );
}
